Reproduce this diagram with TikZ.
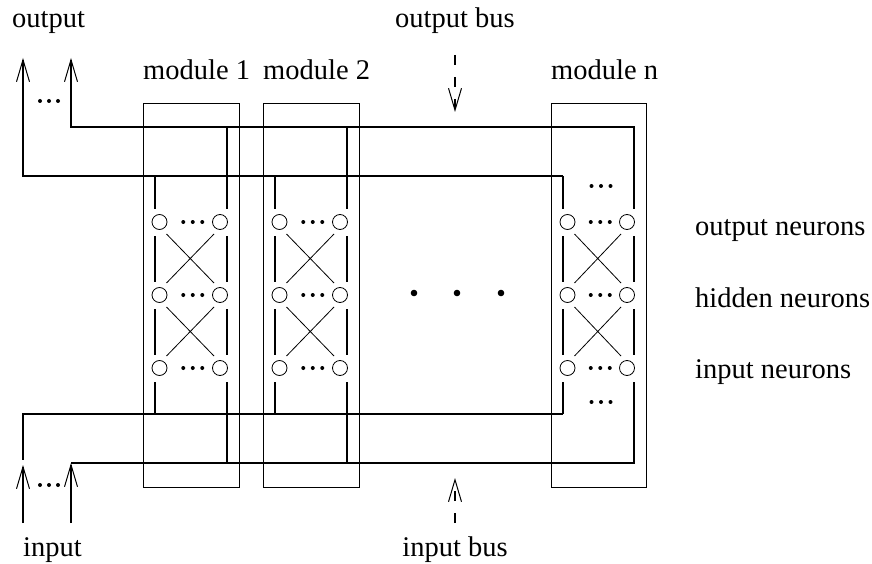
\documentclass[tikz,border=0pt]{standalone}
\usepackage{fontspec}
\setmainfont{Liberation Serif}
\usetikzlibrary{arrows.meta}
\begin{document}
\begin{tikzpicture}[x=1pt,y=-1pt,
  wire/.style={line width=1.2pt},
  synapse/.style={line width=0.8pt},
  lbl/.style={font=\fontsize{28.5}{34}\selectfont, inner sep=0pt},
  sig/.style={line width=1.2pt, -{Straight Barb[length=22pt,width=13pt,line width=1pt]}},
  neuron/.style={circle, draw, line width=0.8pt, minimum size=15pt, inner sep=0pt},
  modbox/.style={draw, line width=1.3pt, inner sep=0pt}
]
\useasboundingbox (0,0) rectangle (872,564);

% bus endpoints
\coordinate (obA) at (635,127);
\coordinate (obB) at (563,176);
\coordinate (ibA) at (563,414);
\coordinate (ibB) at (635,463);
\coordinate (o1c) at (71,127);
\coordinate (o1t) at (71,58);
\coordinate (o2c) at (23,176);
\coordinate (o2t) at (23,58);
\coordinate (i1c) at (23,414);
\coordinate (i1e) at (23,460);
\coordinate (i1t) at (23,465);
\coordinate (i1s) at (23,523);
\coordinate (i2c) at (71,463);
\coordinate (i2s) at (71,523);

% modules
\foreach \nm/\bl/\br/\txt in {m1/143/239/module 1, m2/263/359/module 2, mn/551/646/module n} {
  \pgfmathsetmacro\L{\bl+12}
  \pgfmathsetmacro\R{\br-12}
  \pgfmathsetmacro\lc{\L+4.5}
  \pgfmathsetmacro\rc{\R-7}
  \pgfmathsetmacro\dc{(\lc+\rc)/2+3}
  \node[modbox, minimum width={\br-\bl}, minimum height=384pt, anchor=north west]
    (\nm) at (\bl,103) {};
  \node[lbl, anchor=base west] (\nm-t) at (\bl,80) {\txt};
  % neurons of the three layers
  \foreach \r/\y in {o/222, h/295, i/368} {
    \node[neuron] (\nm-\r l) at (\lc,\y) {};
    \node[neuron] (\nm-\r r) at (\rc,\y) {};
    \foreach \k in {-9.5,0,9.5}
      \fill (\dc+\k,\y) circle (2pt);
  }
  % taps from the buses
  \draw[wire] (\L,176) -- (\L,209) (\L,236) -- (\L,282)
              (\L,309) -- (\L,355) (\L,382) -- (\L,414);
  \draw[wire] (\R,127) -- (\R,209) (\R,236) -- (\R,282)
              (\R,309) -- (\R,355) (\R,382) -- (\R,463);
  % connections between layers
  \foreach \ya/\yb in {222/295, 295/368} {
    \draw[synapse] (\lc+7,\ya+12) -- (\rc-6,\yb-12);
    \draw[synapse] (\rc-6,\ya+12) -- (\lc+7,\yb-12);
  }
}

% extra dots in module n
\foreach \y in {186,402}
  \foreach \k in {-9.5,0,9.5}
    \fill (601+\k,\y) circle (2pt);

% dots between modules
\foreach \x in {414,457,501}
  \fill (\x,293) circle (3.3pt);

% output bus
\draw[sig] (obA) -- (o1c) -- (o1t);
\draw[sig] (obB) -- (o2c) -- (o2t);
\foreach \x in {40,49,58}
  \fill (\x,101) circle (2pt);

% input bus
\draw[wire] (ibA) -- (i1c) -- (i1e);
\draw[sig] (i1s) -- (i1t);
\draw[sig] (i2s) -- (i2c);
\draw[wire] (i2c) -- (ibB);
\foreach \x in {40,49,58}
  \fill (\x,485) circle (2pt);

% bus markers
\coordinate (obs) at (455,55);
\coordinate (obe) at (455,112);
\coordinate (ibs) at (455,523);
\coordinate (ibe) at (455,478);
\draw[sig, dash pattern=on 10pt off 12pt] (obs) -- (obe);
\draw[sig, dash pattern=on 10pt off 12pt] (ibs) -- (ibe);

% labels
\node[lbl, anchor=base west] (outlbl) at (12,28) {output};
\node[lbl, anchor=base] (obuslbl) at (455,28) {output bus};
\node[lbl, anchor=base west] (inlbl) at (23,556) {input};
\node[lbl, anchor=base] (ibuslbl) at (455,556) {input bus};
\node[lbl, anchor=base west] (onl) at (695,235) {output neurons};
\node[lbl, anchor=base west] (hnl) at (695,307) {hidden neurons};
\node[lbl, anchor=base west] (inl) at (695,378) {input neurons};
\end{tikzpicture}
\end{document}
